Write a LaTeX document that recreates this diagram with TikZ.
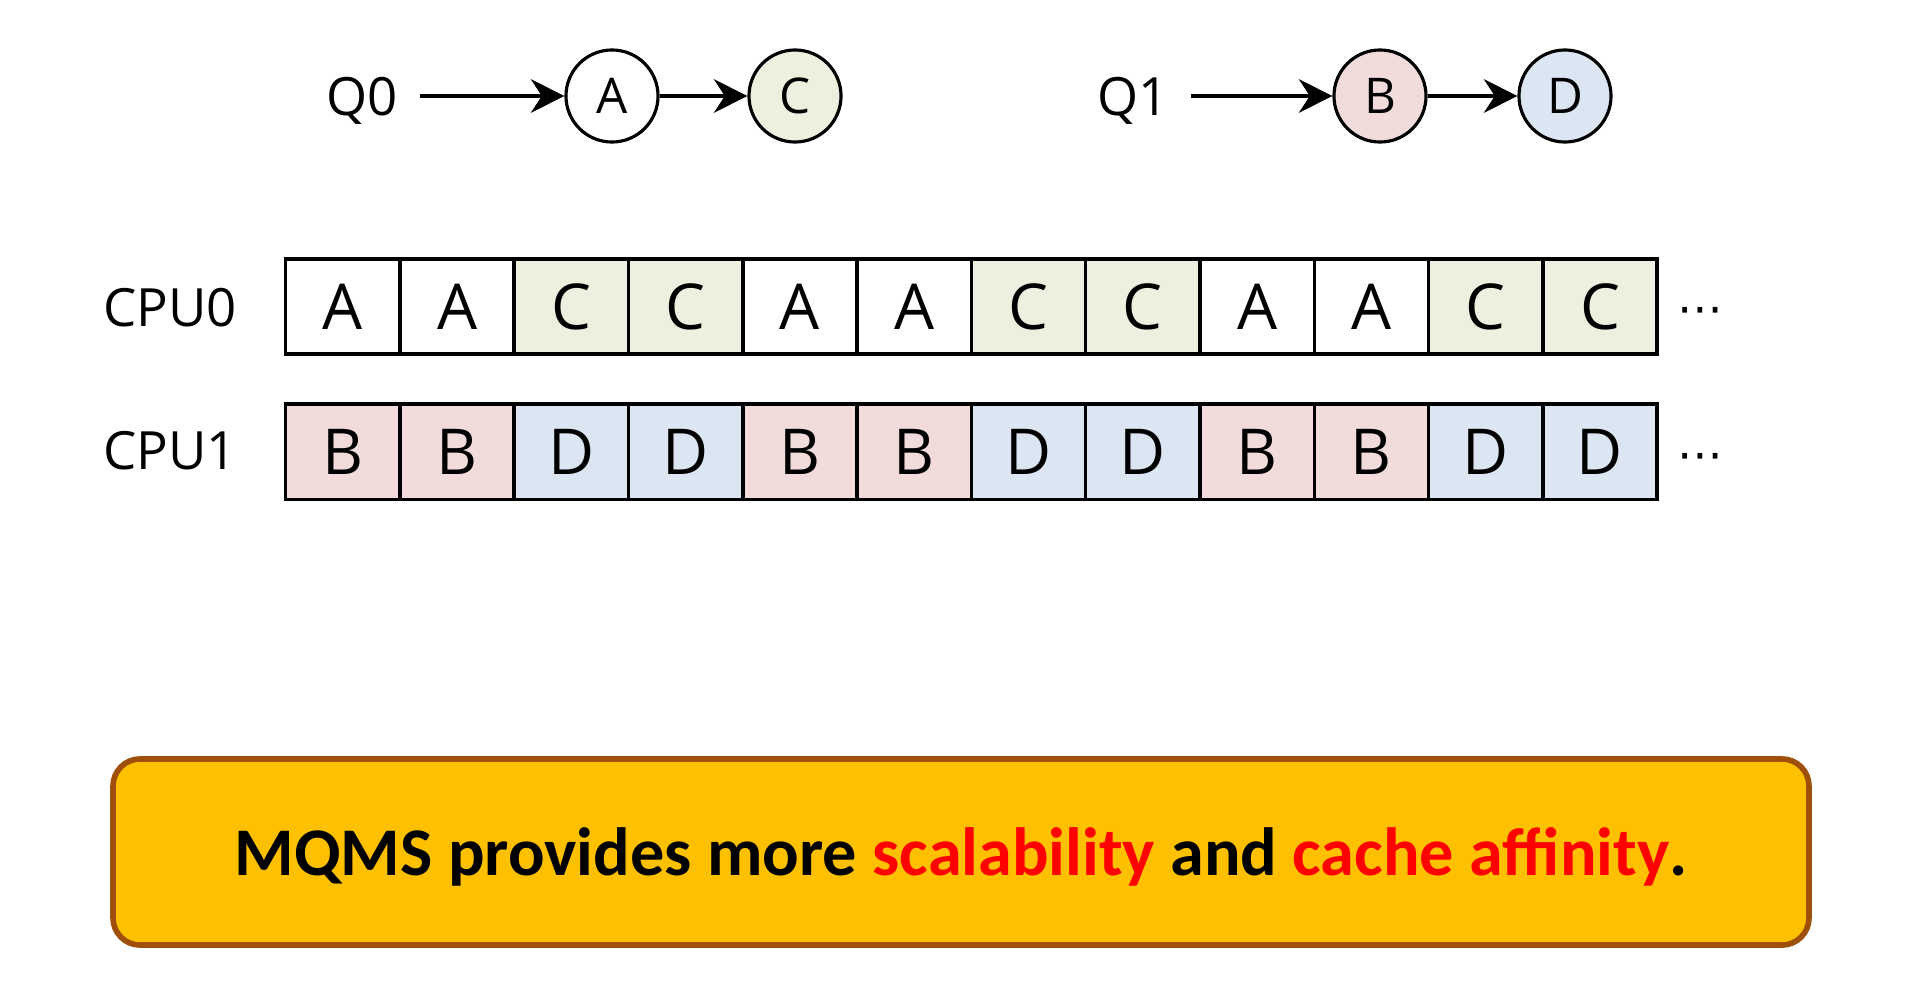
\documentclass[tikz,border=0pt]{standalone}
\usepackage{fontspec}
\setmainfont{Open Sans}
\newfontfamily\notefont{Carlito}
\newfontfamily\symfont{DejaVu Sans}
\usetikzlibrary{arrows.meta,positioning,calc}
\definecolor{taskA}{RGB}{255,255,255}
\definecolor{taskB}{RGB}{242,220,219}
\definecolor{taskC}{RGB}{235,241,222}
\definecolor{taskD}{RGB}{220,230,242}
\definecolor{NoteYellow}{RGB}{255,192,0}
\definecolor{NoteBrown}{RGB}{158,80,10}

\begin{document}
\begin{tikzpicture}[x=0.01cm,y=-0.01cm,
  label/.style={inner sep=0pt,text depth=0pt,font=\fontsize{15}{18}\selectfont},
  job/.style={circle,draw,line width=0.9pt,minimum size=0.92cm,inner sep=0pt,
    font=\fontsize{14}{16}\selectfont},
  slot/.style={draw,line width=1pt,minimum width=1.143cm,minimum height=0.952cm,
    inner sep=0pt,font=\fontsize{18}{20}\selectfont},
  qarrow/.style={-{Stealth[length=9.5pt,width=9.5pt]},line width=1.3pt},
  more/.style={inner sep=0pt,font=\symfont\fontsize{13}{14}\selectfont}]
  \useasboundingbox (0,0) rectangle (1914,1000);

  % queues
  \node[label] (q0) at (362,96) {Q0};
  \node[job,fill=taskA] (a) at (612,96) {A};
  \node[job,fill=taskC] (c) at (795,96) {C};
  \node[label] (q1) at (1133,96) {Q1};
  \node[job,fill=taskB] (b) at (1380,96) {B};
  \node[job,fill=taskD] (d) at (1565,96) {D};
  \draw[qarrow,shorten <=0.22cm] (q0) -- (a);
  \draw[qarrow] (a) -- (c);
  \draw[qarrow,shorten <=0.22cm] (q1) -- (b);
  \draw[qarrow] (b) -- (d);

  % per-cpu schedules
  \node[label] (cpu0) at (170,307) {CPU0};
  \node[label] (cpu1) at (170,450) {CPU1};
  \foreach \i/\ja/\jb in {1/A/B,2/A/B,3/C/D,4/C/D,5/A/B,6/A/B,
                          7/C/D,8/C/D,9/A/B,10/A/B,11/C/D,12/C/D} {
    \node[slot,fill=task\ja] (s0-\i) at (228.45+114.3*\i,306.4) {\ja};
    \node[slot,fill=task\jb] (s1-\i) at (228.45+114.3*\i,451.7) {\jb};
  }
  \node[more] (more0) at (1700,316) {⋯};
  \node[more] (more1) at (1700,462) {⋯};

  % summary
  \node[draw=NoteBrown,fill=NoteYellow,line width=1.6pt,rounded corners=0.27cm,
    minimum width=16.95cm,minimum height=1.86cm,text depth=0pt,
    font=\notefont\bfseries\fontsize{19.4}{24}\selectfont] (note) at (961,852)
    {MQMS provides more \textcolor{red}{scalability} and \textcolor{red}{cache affinity}.};
\end{tikzpicture}
\end{document}
